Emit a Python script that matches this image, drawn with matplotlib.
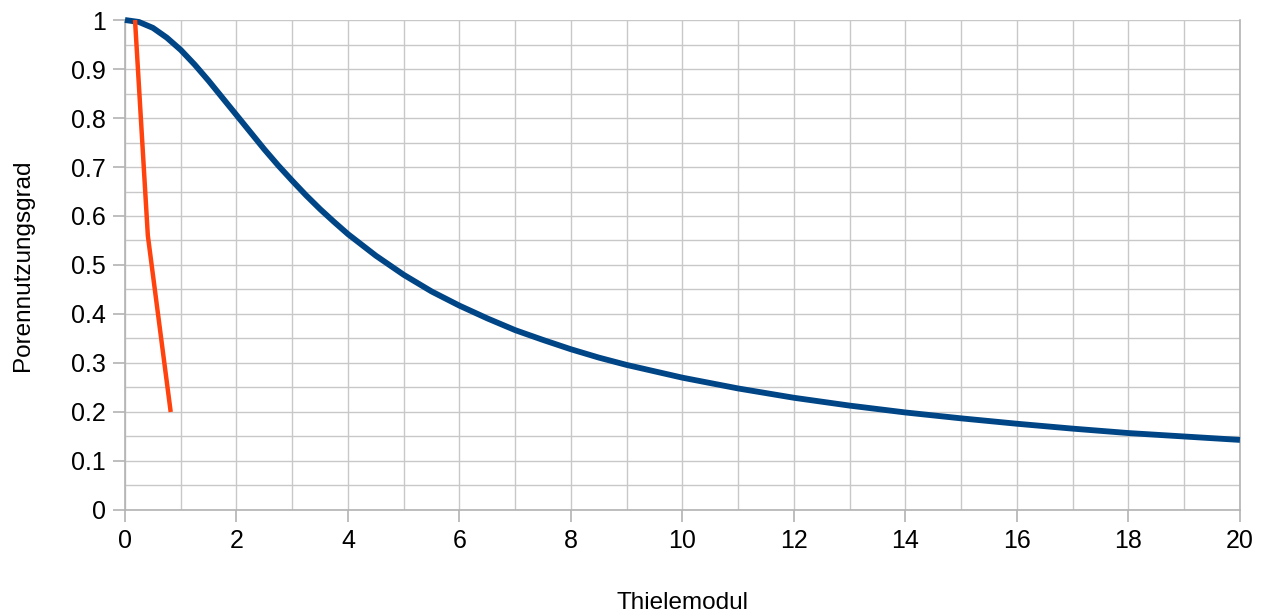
import matplotlib.pyplot as plt
from matplotlib.ticker import MultipleLocator, FuncFormatter

# values
thiele = [0, 0.25, 0.5, 0.75, 1, 1.25, 1.5, 1.75, 2, 2.25, 2.5, 2.75, 3, 3.25, 3.5,
          3.75, 4, 4.5, 5, 5.5, 6, 6.5, 7, 7.5, 8, 8.5, 9, 9.5, 10,
          11, 12, 13, 14, 15, 16, 17, 18, 19, 20]
eta = [1.0, 0.996, 0.984, 0.964, 0.939, 0.909, 0.876, 0.841, 0.806, 0.771, 0.736,
       0.703, 0.672, 0.642, 0.614, 0.588, 0.563, 0.519, 0.480, 0.446, 0.417, 0.391,
       0.367, 0.347, 0.328, 0.311, 0.296, 0.283, 0.270,
       0.248, 0.229, 0.213, 0.199, 0.187, 0.176, 0.166, 0.157, 0.150, 0.143]

red_x = [0.18, 0.41, 0.82]
red_y = [1.0, 0.56, 0.2]

plt.rcParams['font.family'] = ['Liberation Sans', 'DejaVu Sans']

fig = plt.figure(figsize=(12.65, 6.12), dpi=100)
ax = fig.add_axes([0.0988, 0.1667, 0.8814, 0.8006])

ax.plot(thiele, eta, color='#004586', lw=4.2, solid_capstyle='butt',
        solid_joinstyle='round', zorder=3, clip_on=False)
ax.plot(red_x, red_y, color='#ff420e', lw=3.2, solid_capstyle='butt', zorder=4)

ax.set_xlim(0, 20)
ax.set_ylim(0, 1)
ax.xaxis.set_major_locator(MultipleLocator(2))
ax.xaxis.set_minor_locator(MultipleLocator(1))
ax.yaxis.set_major_locator(MultipleLocator(0.1))
ax.yaxis.set_minor_locator(MultipleLocator(0.05))
ax.yaxis.set_major_formatter(FuncFormatter(lambda v, p: f'{v:.1f}'.rstrip('0').rstrip('.') if v else '0'))

ax.grid(which='both', color='#c8c8c8', lw=1.0)
ax.set_axisbelow(True)
ax.spines['top'].set_visible(False)
for side in ['left', 'bottom', 'right']:
    ax.spines[side].set_color('#b3b3b3')
    ax.spines[side].set_linewidth(1.2)

ax.tick_params(which='major', length=8.6, width=1.2, color='#b3b3b3', labelsize=18, pad=5)
ax.tick_params(which='minor', length=0)

ax.set_xlabel('Thielemodul', fontsize=17.5, labelpad=28)
ax.set_ylabel('Porennutzungsgrad', fontsize=17.5, labelpad=27)

fig.savefig('out.png', dpi=100)
